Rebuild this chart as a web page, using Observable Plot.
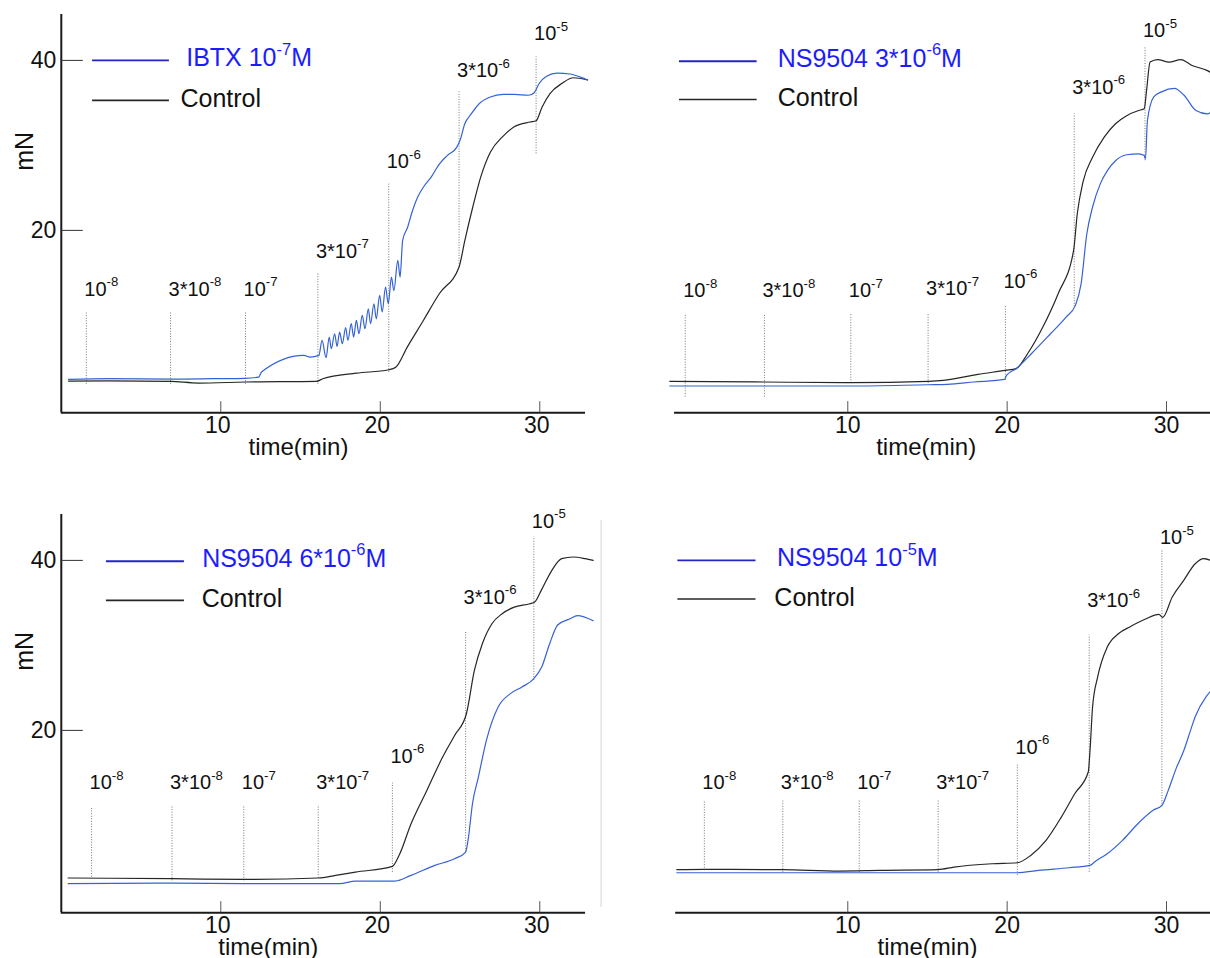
<!DOCTYPE html>
<html><head><meta charset="utf-8">
<script src="https://cdn.jsdelivr.net/npm/d3@7"></script>
<script src="https://cdn.jsdelivr.net/npm/@observablehq/plot@0.6"></script>
<style>
html,body{margin:0;padding:0;background:#fff;overflow:hidden;}
#wrap{position:relative;width:1210px;height:958px;}
.panel{position:absolute;}
</style></head><body><div id="wrap"></div>
<script>
// ---------- shared labels ----------
const doseLabels = ["10^{-8}", "3*10^{-8}", "10^{-7}", "3*10^{-7}", "10^{-6}", "3*10^{-6}", "10^{-5}"];
const xTicks = [10, 20, 30];
const yTicks = [20, 40];
const yDomain = [-1.45, 45.4];
const xAxisTitle = "time(min)";
const yAxisTitle = "mN";

// ---------- panel 1: IBTX 10^-7 M ----------
const p1Legend = ["IBTX 10^{-7}M", "Control"];
const p1Blue = [[0.45,2.47],[3.0,2.55],[6.85,2.5],[9.5,2.55],[11.55,2.6],[12.38,2.74],[12.55,3.33],[15.2,5.29],[15.6,5.1],[16.15,5.29],[16.35,7.06],[16.6,5.02],[16.8,7.45],[16.93,6.08],[17.14,7.84],[17.29,6.35],[17.45,8.04],[17.62,6.67],[17.83,8.55],[17.97,7.06],[18.18,9.02],[18.33,7.45],[18.5,9.41],[18.66,7.84],[18.87,10.0],[19.04,8.43],[19.25,10.78],[19.39,9.02],[19.6,11.37],[19.75,9.6],[19.96,12.35],[20.12,10.4],[20.33,13.33],[20.5,11.37],[20.7,14.5],[20.85,12.9],[21.1,16.47],[21.24,14.5],[21.4,18.8],[21.72,20.4],[21.96,21.96],[22.34,23.9],[22.71,25.1],[23.2,26.3],[23.7,27.8],[24.2,28.8],[24.8,29.8],[25.0,30.6],[25.3,32.55],[25.7,33.7],[26.2,34.9],[26.9,35.7],[27.7,36.0],[28.4,36.0],[29.3,35.9],[29.65,36.2],[29.95,37.25],[30.4,38.1],[31.1,38.5],[31.9,38.4],[32.6,38.0],[33.0,37.7]];
const p1Black = [[0.45,2.27],[3,2.3],[6.85,2.24],[8.6,2.04],[11.55,2.16],[16.0,2.24],[16.4,2.55],[18.5,3.2],[20.53,3.6],[20.97,3.9],[21.7,6.3],[22.7,9.4],[23.7,12.55],[24.94,15.7],[25.3,18.8],[25.8,22.75],[26.3,26.3],[26.9,29.2],[27.66,31.0],[28.4,32.2],[29.4,32.75],[29.77,32.9],[30.14,34.5],[30.64,36.1],[31.4,37.3],[32.1,37.96],[33.0,37.7]];
const p1DoseTime = [1.57, 6.85, 11.55, 16.09, 20.53, 24.94, 29.77];
const p1DoseTop = [10.3, 10.3, 10.3, 14.9, 25.5, 36.3, 40.4];
const p1DoseBottom = [1.9, 1.9, 1.9, 1.9, 3.3, 15.7, 29.0];
const p1DoseLabelY = [12.3, 12.3, 12.3, 16.8, 27.3, 38.0, 42.35];

// ---------- panel 2: NS9504 3*10^-6 M ----------
const p2Legend = ["NS9504 3*10^{-6}M", "Control"];
const p2Blue = [[-1.17,1.69],[4.72,1.69],[10.19,1.69],[15.04,1.84],[16.24,1.88],[17.92,2.16],[19.84,2.47],[19.96,2.94],[20.56,3.73],[21.52,5.49],[22.72,7.84],[23.7,9.8],[24.28,11.18],[24.64,13.7],[25.0,19.6],[25.36,22.75],[25.85,25.5],[26.3,27.06],[26.8,28.2],[27.5,28.9],[28.25,29.0],[28.6,28.8],[28.68,28.4],[28.8,32.9],[29.2,35.7],[29.69,36.3],[30.5,36.7],[31.1,35.9],[31.85,34.1],[32.57,33.7],[32.76,33.9]];
const p2Black = [[-1.17,2.24],[4.72,2.16],[10.19,2.08],[15.04,2.24],[16.0,2.35],[18.16,3.06],[19.89,3.53],[20.56,3.73],[21.28,5.49],[22.24,8.63],[23.2,12.55],[24.17,17.65],[24.4,21.96],[24.76,25.7],[25.36,28.6],[26.1,31.0],[26.8,32.55],[27.5,33.5],[28.25,34.1],[28.6,34.3],[28.75,36.5],[28.97,39.8],[29.45,40.1],[30.17,39.8],[30.9,40.1],[31.6,39.4],[32.57,38.8],[32.76,38.6]];
const p2DoseTime = [-0.2, 4.77, 10.19, 15.04, 19.89, 24.21, 28.65];
const p2DoseTop = [10.2, 10.2, 10.2, 10.2, 11.2, 33.7, 41.6];
const p2DoseBottom = [0.4, 0.4, 2.0, 2.0, 2.35, 11.0, 28.2];
const p2DoseLabelY = [12.15, 12.15, 12.15, 12.35, 13.25, 36.1, 42.7];

// ---------- panel 3: NS9504 6*10^-6 M ----------
const p3Legend = ["NS9504 6*10^{-6}M", "Control"];
const p3Blue = [[0.43,1.96],[6.94,2.04],[11.44,1.96],[16.11,1.96],[17.45,1.96],[18.44,2.27],[20.93,2.27],[21.93,2.94],[23.42,4.12],[24.66,4.9],[25.35,5.69],[25.53,7.45],[25.78,11.37],[26.15,14.5],[26.65,18.8],[27.39,22.75],[28.14,24.3],[28.88,25.1],[29.63,26.1],[30.12,27.45],[30.62,30.2],[31.12,32.4],[31.87,33.1],[32.36,33.5],[33.35,32.9]];
const p3Black = [[0.43,2.63],[6.94,2.55],[11.44,2.47],[16.11,2.63],[17.2,2.94],[18.44,3.33],[20.76,4.0],[21.18,5.3],[21.93,9.02],[22.92,12.94],[23.91,16.86],[24.66,19.4],[25.4,21.96],[25.9,27.06],[26.4,30.2],[27.0,32.55],[27.64,33.73],[28.4,34.5],[29.38,34.9],[29.68,35.1],[30.1,36.5],[30.75,38.8],[31.37,40.2],[32.1,40.4],[32.86,40.2],[33.35,40.0]];
const p3DoseTime = [1.9, 6.94, 11.44, 16.11, 20.76, 25.35, 29.63];
const p3DoseTop = [10.98, 10.98, 11.18, 11.18, 13.8, 31.57, 42.75];
const p3DoseBottom = [2.74, 2.3, 2.3, 2.6, 3.3, 5.7, 25.9];
const p3DoseLabelY = [13.1, 13.1, 13.1, 13.1, 16.2, 34.9, 43.85];

// ---------- panel 4: NS9504 10^-5 M ----------
const p4Legend = ["NS9504 10^{-5}M", "Control"];
const p4Blue = [[-0.73,3.25],[9.47,3.25],[20.64,3.25],[21.96,3.53],[23.88,3.84],[25.2,4.12],[25.56,4.63],[26.28,5.49],[27.24,7.06],[28.2,9.02],[29.16,10.6],[29.71,11.18],[30.12,13.0],[30.6,15.5],[31.08,17.6],[31.56,20.3],[31.8,21.6],[32.5,24.0],[32.76,24.6]];
const p4Black = [[-0.73,3.61],[1.0,3.65],[5.92,3.61],[9.47,3.45],[12.0,3.53],[15.67,3.61],[16.67,3.92],[19.08,4.31],[20.64,4.43],[21.48,5.29],[22.44,7.06],[23.4,9.8],[24.24,12.55],[25.09,15.1],[25.2,17.65],[25.36,22.75],[25.68,26.3],[26.28,29.8],[27.0,31.4],[27.72,32.2],[28.68,33.1],[29.52,33.65],[29.76,33.3],[30.36,35.7],[31.08,37.65],[31.8,39.6],[32.33,40.2],[32.76,40.0]];
const p4DoseTime = [1.0, 5.92, 10.72, 15.67, 20.64, 25.15, 29.71];
const p4DoseTop = [11.76, 11.76, 11.76, 11.76, 15.9, 31.2, 41.25];
const p4DoseBottom = [3.5, 3.3, 3.3, 3.3, 2.94, 3.3, 11.0];
const p4DoseLabelY = [13.1, 13.1, 13.1, 13.1, 17.25, 34.5, 41.9];

// ---------- legend geometry (data units) ----------
const legendLineX = [[1.96, 6.78], [-0.56, 4.31], [2.83, 7.72], [-0.66, 4.24]];
const legendTextX = [[7.83, 7.47], [5.6, 5.6], [8.83, 8.8], [5.56, 5.39]];
const legendY = [[40.0, 35.3], [39.9, 35.4], [39.9, 35.3], [40.0, 35.45]];
const timeTitleX = [14.87, 14.92, 12.98, 15.0];

const BLUE_TRACE = "#3462d6", BLUE_LEGEND = "#2424c4", BLUE_TEXT = "#1c1cff", BLACK = "#262626";
const FONT = "'Liberation Sans', Arial, Helvetica, sans-serif";

function supify(svg) {
  const ns = "http://www.w3.org/2000/svg";
  svg.querySelectorAll("text").forEach(t => {
    const s = t.textContent;
    const m = s.match(/^(.*?)\^\{(.*?)\}(.*)$/);
    if (!m) return;
    while (t.firstChild) t.removeChild(t.firstChild);
    const a = document.createElementNS(ns, "tspan"); a.textContent = m[1];
    const b = document.createElementNS(ns, "tspan"); b.textContent = m[2];
    b.setAttribute("font-size", "0.66em"); b.setAttribute("dy", "-0.72em");
    t.append(a, b);
    if (m[3]) {
      const c = document.createElementNS(ns, "tspan"); c.textContent = m[3];
      c.setAttribute("dy", (0.72 * 0.66).toFixed(3) + "em");
      t.append(c);
    }
  });
}

function panel(o) {
  const yMin = yDomain[0];
  const doses = o.doseT.map((t, i) => ({t, top: o.doseTop[i], bottom: o.doseBottom[i], ly: o.doseLabelY[i], label: doseLabels[i]}));
  const marks = [
    Plot.ruleX(doses, {x: "t", y1: "bottom", y2: "top", stroke: "#555", strokeWidth: 1, strokeDasharray: "1,1.6", strokeOpacity: 0.8}),
    Plot.text(doses, {x: "t", y: "ly", text: "label", textAnchor: "start", lineAnchor: "bottom", dx: -2, fontSize: 20, fill: "#111"}),
    Plot.line(o.black, {x: d => d[0], y: d => d[1], stroke: BLACK, strokeWidth: 1.2, curve: "monotone-x"}),
    Plot.line(o.blue, {x: d => d[0], y: d => d[1], stroke: BLUE_TRACE, strokeWidth: 1.2, curve: "monotone-x"}),
    // x axis
    Plot.ruleY([yMin], {x1: o.xAxis[0], x2: o.xAxis[1], stroke: "#1a1a1a", strokeWidth: 2}),
    Plot.ruleX(xTicks, {y1: yMin, y2: yMin + 1.3, stroke: "#555", strokeWidth: 1}),
    Plot.axisX({ticks: xTicks, tickSize: 0, tickPadding: 4, label: null, fontSize: 23, fill: "#111", dx: o.left ? -3 : 0}),
    Plot.text([xAxisTitle], {x: o.timeX, y: yMin, dy: 35, fontSize: 24, fill: "#111"}),
    // legend
    Plot.ruleY([o.legY[0]], {x1: o.legLine[0], x2: o.legLine[1], stroke: BLUE_LEGEND, strokeWidth: 1.8}),
    Plot.ruleY([o.legY[1]], {x1: o.legLine[0], x2: o.legLine[1], stroke: BLACK, strokeWidth: 1.6}),
    Plot.text([o.legend[0]], {x: o.legX[0], y: o.legY[0], textAnchor: "start", fontSize: 25, fill: BLUE_TEXT, dy: -2}),
    Plot.text([o.legend[1]], {x: o.legX[1], y: o.legY[1], textAnchor: "start", fontSize: 25, fill: "#111", dy: -1})
  ];
  if (o.left) {
    marks.push(
      Plot.ruleX([o.xDomain[0]], {y1: yMin, y2: yDomain[1], stroke: "#1a1a1a", strokeWidth: 2}),
      Plot.ruleY(yTicks, {x1: o.xDomain[0], x2: o.xDomain[0] + 1.38, stroke: "#333", strokeWidth: 1}),
      Plot.axisY({ticks: yTicks, tickSize: 0, tickPadding: 5, label: null, fontSize: 23, fill: "#111"}),
      Plot.text([yAxisTitle], {x: o.xDomain[0], y: 29.3, dx: -36, rotate: -90, fontSize: 25, fill: "#111"})
    );
  }
  if (o.edgeRule) {
    marks.push(Plot.ruleX([o.edgeRule], {y1: -0.8, y2: 44.7, stroke: "#e2e2e2", strokeWidth: 1.5}));
  }
  const svg = Plot.plot({
    width: 605, height: o.height,
    marginLeft: o.marginLeft, marginRight: o.marginRight, marginTop: 14, marginBottom: o.height - 412.2,
    x: {domain: o.xDomain, axis: null},
    y: {domain: yDomain, axis: null},
    style: {fontFamily: FONT, fontSize: "19px", background: "transparent", overflow: "visible", color: "#111"},
    marks
  });
  supify(svg);
  const div = document.createElement("div");
  div.className = "panel";
  div.style.left = o.px + "px";
  div.style.top = o.py + "px";
  div.appendChild(svg);
  document.getElementById("wrap").appendChild(div);
}

const leftX = {xDomain: [0, 33.4], marginLeft: 60.8, marginRight: 605 - 593.5, xAxis: [0, 32.87], left: true, px: 0};
const rightX = {xDomain: [-1.2, 32.76], marginLeft: 63.8, marginRight: 0, xAxis: [-0.87, 32.76], left: false, px: 605};

panel({...leftX, py: 0, height: 470, blue: p1Blue, black: p1Black, doseT: p1DoseTime, doseTop: p1DoseTop, doseBottom: p1DoseBottom, doseLabelY: p1DoseLabelY, legend: p1Legend, legLine: legendLineX[0], legX: legendTextX[0], legY: legendY[0], timeX: timeTitleX[0]});
panel({...rightX, py: 0, height: 470, blue: p2Blue, black: p2Black, doseT: p2DoseTime, doseTop: p2DoseTop, doseBottom: p2DoseBottom, doseLabelY: p2DoseLabelY, legend: p2Legend, legLine: legendLineX[1], legX: legendTextX[1], legY: legendY[1], timeX: timeTitleX[1]});
panel({...leftX, py: 500, height: 458, edgeRule: 33.85, blue: p3Blue, black: p3Black, doseT: p3DoseTime, doseTop: p3DoseTop, doseBottom: p3DoseBottom, doseLabelY: p3DoseLabelY, legend: p3Legend, legLine: legendLineX[2], legX: legendTextX[2], legY: legendY[2], timeX: timeTitleX[2]});
panel({...rightX, py: 500, height: 458, xAxis: [-0.8, 32.76], blue: p4Blue, black: p4Black, doseT: p4DoseTime, doseTop: p4DoseTop, doseBottom: p4DoseBottom, doseLabelY: p4DoseLabelY, legend: p4Legend, legLine: legendLineX[3], legX: legendTextX[3], legY: legendY[3], timeX: timeTitleX[3]});
</script>
</body></html>
